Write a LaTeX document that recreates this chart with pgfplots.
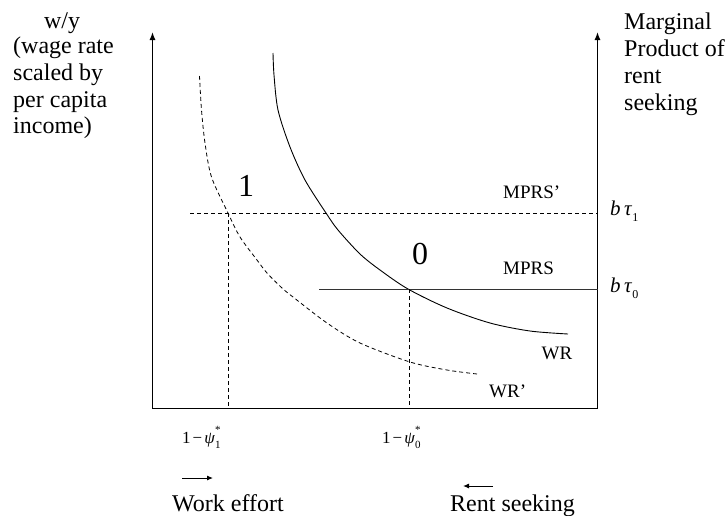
\documentclass[border=0pt]{standalone}
\usepackage{pgfplots}
\pgfplotsset{compat=1.18}
\usepackage{fontspec}
\setmainfont{Liberation Serif}
\usetikzlibrary{arrows.meta}
\newcommand{\ps}[1]{1\hspace{0.12em}−\hspace{0.12em}\textit{ψ}\makebox[0pt][l]{\raisebox{0.55em}{\fontsize{11}{11}\selectfont *}}\raisebox{-0.3em}{\fontsize{11}{11}\selectfont #1}}
\newcommand{\bt}[1]{\textit{b}\,\textit{τ}\raisebox{-0.3em}{\fontsize{12}{12}\selectfont #1}}
\begin{document}
\begin{tikzpicture}
\begin{axis}[
  scale only axis, width=728pt, height=515pt,
  xmin=0, xmax=728, ymin=0, ymax=515, y dir=reverse,
  hide axis, clip=false,
]
\coordinate (TL) at (axis cs:0,0);
\coordinate (BR) at (axis cs:728,515);
% axes
\addplot[black, line width=1.2pt, -{Latex[length=8pt,width=6pt]}] coordinates {(152.5,408.5) (152.5,32)};
\addplot[black, line width=1.2pt, -{Latex[length=8pt,width=6pt]}] coordinates {(597.5,408.5) (597.5,32)};
\addplot[black, line width=1.1pt] coordinates {(152.5,408.5) (597.5,408.5)};
% WR
\addplot[black, line width=0.9pt, smooth] coordinates {(273,53) (274,75) (278,110) (290,147) (305,180) (326,213) (338,230) (360,254) (380,270) (408,289) (447,308) (490,323) (530,331) (568,334)};
% WR'
\addplot[black, line width=0.8pt, smooth, dash pattern=on 4pt off 3pt] coordinates {(199.5,76) (201.5,110) (205,143) (211.5,177) (228,213) (240,237) (257,260) (267,273) (282,288) (293,297) (327,323) (360,343) (410,362) (447,370) (477,374)};
% MPRS' and MPRS
\addplot[black, line width=0.8pt, dash pattern=on 4pt off 3pt] coordinates {(190,213) (597.5,213)};
\addplot[black!80, line width=1pt] coordinates {(319,289) (597.5,289)};
% verticals
\addplot[black, line width=0.8pt, dash pattern=on 4pt off 3pt] coordinates {(228.5,213) (228.5,408)};
\addplot[black, line width=0.8pt, dash pattern=on 4pt off 3pt] coordinates {(409,289) (409,408)};
% direction arrows
\addplot[black, line width=1pt, -{Latex[length=6pt,width=5pt]}] coordinates {(182,478) (213,478)};
\addplot[black, line width=1pt, -{Latex[length=6pt,width=5pt]}] coordinates {(493,486) (463,486)};
% texts
\begin{scope}[every node/.style={inner sep=0pt, font=\fontsize{24}{24}\selectfont}]
\node[anchor=base] at (axis cs:62,28) {w/y};
\node[anchor=base west] at (axis cs:13,53.5) {(wage rate};
\node[anchor=base west] at (axis cs:13,80) {scaled by};
\node[anchor=base west] at (axis cs:13,107) {per capita};
\node[anchor=base west] at (axis cs:13,133.5) {income)};
\node[anchor=base west] at (axis cs:624,29) {Marginal};
\node[anchor=base west] at (axis cs:624,56.5) {Product of};
\node[anchor=base west] at (axis cs:624,83) {rent};
\node[anchor=base west] at (axis cs:624,110) {seeking};
\node[anchor=base west] at (axis cs:172,511) {Work effort};
\node[anchor=base west] at (axis cs:450,511) {Rent seeking};
\end{scope}
\begin{scope}[every node/.style={inner sep=0pt, font=\fontsize{32}{32}\selectfont}]
\node at (axis cs:246,186) {1};
\node at (axis cs:420,254.5) {0};
\end{scope}
\begin{scope}[every node/.style={inner sep=0pt, font=\fontsize{19}{19}\selectfont}]
\node[anchor=base west] at (axis cs:503,198.5) {MPRS’};
\node[anchor=base west] at (axis cs:503,274.5) {MPRS};
\node[anchor=base west] at (axis cs:541.5,359) {WR};
\node[anchor=base west] at (axis cs:489,397) {WR’};
\end{scope}
\begin{scope}[every node/.style={inner sep=0pt, font=\fontsize{21}{21}\selectfont}]
\node[anchor=base west] at (axis cs:610,215) {\bt{1}};
\node[anchor=base west] at (axis cs:610,292) {\bt{0}};
\end{scope}
\begin{scope}[every node/.style={inner sep=0pt, font=\fontsize{17}{17}\selectfont}]
\node[anchor=base west] at (axis cs:182,443) {\ps{1}};
\node[anchor=base west] at (axis cs:382,443) {\ps{0}};
\end{scope}
\end{axis}
\pgfresetboundingbox
\path (TL) rectangle (BR);
\end{tikzpicture}
\end{document}
